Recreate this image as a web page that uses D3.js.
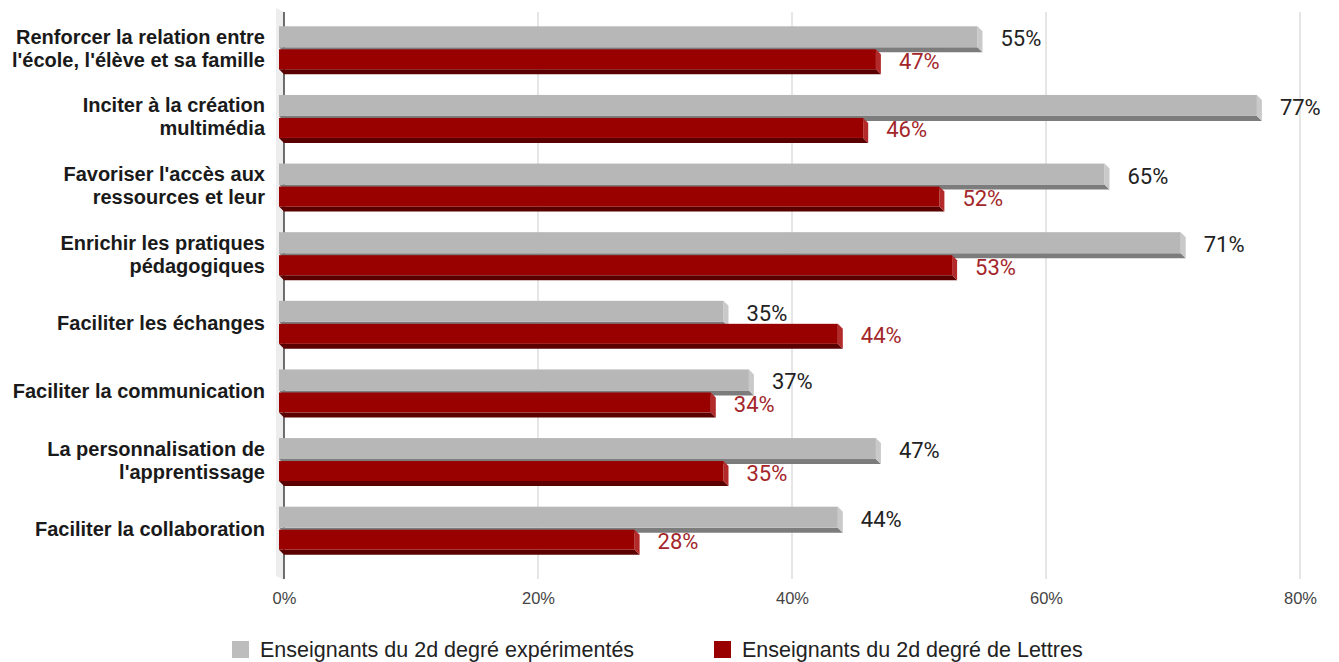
<!DOCTYPE html>
<html>
<head>
<meta charset="utf-8">
<script src="https://cdn.jsdelivr.net/npm/d3@7"></script>
<style>
    html, body { margin: 0; padding: 0; background: #fff; }
    #chart { width: 1339px; height: 662px; }
</style>
</head>
<body>
<div id="chart"></div>
<script>
var categories = [
    "Renforcer la relation entre\nl'école, l'élève et sa famille",
    "Inciter à la création\nmultimédia",
    "Favoriser l'accès aux\nressources et leur",
    "Enrichir les pratiques\npédagogiques",
    "Faciliter les échanges",
    "Faciliter la communication",
    "La personnalisation de\nl'apprentissage",
    "Faciliter la collaboration"
];
var seriesNames = ["Enseignants du 2d degré expérimentés", "Enseignants du 2d degré de Lettres"];
var experimentes = [0.55, 0.77, 0.65, 0.71, 0.35, 0.37, 0.47, 0.44];
var lettres = [0.47, 0.46, 0.52, 0.53, 0.44, 0.34, 0.35, 0.28];
var ticks = [0, 0.2, 0.4, 0.6, 0.8];

var config = {
    width: 1339,
    height: 662,
    plot: { left: 284, right: 1300, top: 14, bottom: 563, axisTop: 12, axisBottom: 579 },
    depth: 5,
    colors: [
        { front: '#b7b7b7', side: '#c9c9c9', bottom: '#7c7c7c', label: '#222' },
        { front: '#990000', side: '#b32a2a', bottom: '#5a0000', label: '#a3262a' }
    ]
};

var svg = d3.select('#chart').append('svg')
    .attr('width', config.width)
    .attr('height', config.height);

var x = d3.scaleLinear().domain([0, 0.8]).range([config.plot.left, config.plot.right]);
var y = d3.scaleBand().domain(categories).range([config.plot.top, config.plot.bottom]);

// left wall of the 3d box
svg.append('polygon')
    .attr('points', [[276, 8], [config.plot.left, 12], [config.plot.left, 580], [276, 576]].join(' '))
    .attr('fill', '#ededed');

// gridlines + tick labels
var xAxis = d3.axisBottom(x).tickValues(ticks).tickFormat(d3.format('.0%')).tickSize(0).tickPadding(0);
var axisG = svg.append('g')
    .attr('transform', 'translate(0,' + config.plot.axisBottom + ')')
    .call(xAxis);
axisG.select('.domain').remove();
axisG.selectAll('text')
    .attr('y', 13)
    .attr('font-family', 'Liberation Sans, Arial, sans-serif')
    .attr('font-size', 16.5)
    .attr('fill', '#444');

svg.append('g').selectAll('line')
    .data(ticks.slice(1))
    .enter().append('line')
    .attr('x1', function(d) { return x(d); })
    .attr('x2', function(d) { return x(d); })
    .attr('y1', config.plot.axisTop)
    .attr('y2', config.plot.axisBottom)
    .attr('stroke', '#d6d6d6')
    .attr('stroke-width', 1.2);

svg.append('line')
    .attr('x1', x(0)).attr('x2', x(0))
    .attr('y1', config.plot.axisTop).attr('y2', config.plot.axisBottom)
    .attr('stroke', '#111')
    .attr('stroke-width', 1.2);

// bars
function drawBar(g, value, top, h, col) {
    var d = config.depth,
        x0 = x(0) - d,
        x1 = x(value) - d,
        yb = top + h;
    g.append('polygon')
        .attr('points', [[x0, yb], [x1, yb], [x1 + d, yb + d], [x0 + d, yb + d]].join(' '))
        .attr('fill', col.bottom);
    g.append('polygon')
        .attr('points', [[x1, top], [x1 + d, top + d], [x1 + d, yb + d], [x1, yb]].join(' '))
        .attr('fill', col.side);
    g.append('rect')
        .attr('x', x0).attr('y', top)
        .attr('width', x1 - x0).attr('height', h)
        .attr('fill', col.front);
    g.append('text')
        .attr('x', x(value) + 18)
        .attr('y', top + h / 2 + 2)
        .attr('dominant-baseline', 'central')
        .attr('font-family', 'Roboto, sans-serif')
        .attr('font-size', 22)
        .attr('fill', col.label)
        .text(Math.round(value * 100) + '%');
}

var rows = svg.append('g').selectAll('g')
    .data(categories)
    .enter().append('g');

rows.each(function(c, i) {
    var g = d3.select(this),
        center = y(c) + y.bandwidth() / 2;
    drawBar(g, experimentes[i], center - 22, 21, config.colors[0]);
    drawBar(g, lettres[i], center + 1, 20, config.colors[1]);

    var lines = c.split('\n');
    var label = g.append('text')
        .attr('text-anchor', 'end')
        .attr('font-family', 'Liberation Sans, Arial, sans-serif')
        .attr('font-weight', 'bold')
        .attr('font-size', 20)
        .attr('fill', '#1a1a1a');
    lines.forEach(function(line, j) {
        label.append('tspan')
            .attr('x', 265)
            .attr('y', center + (j - (lines.length - 1) / 2) * 23)
            .attr('dominant-baseline', 'central')
            .text(line);
    });
});

// legend
var legend = svg.append('g');
var lx = [232, 714];
seriesNames.forEach(function(name, i) {
    legend.append('rect')
        .attr('x', lx[i]).attr('y', 641)
        .attr('width', 17).attr('height', 17)
        .attr('fill', i === 0 ? '#bdbdbd' : '#990000');
    legend.append('text')
        .attr('x', lx[i] + 28)
        .attr('y', 650)
        .attr('dominant-baseline', 'central')
        .attr('font-family', 'Liberation Sans, Arial, sans-serif')
        .attr('font-size', 21.5)
        .attr('fill', '#222')
        .text(name);
});
</script>
</body>
</html>
